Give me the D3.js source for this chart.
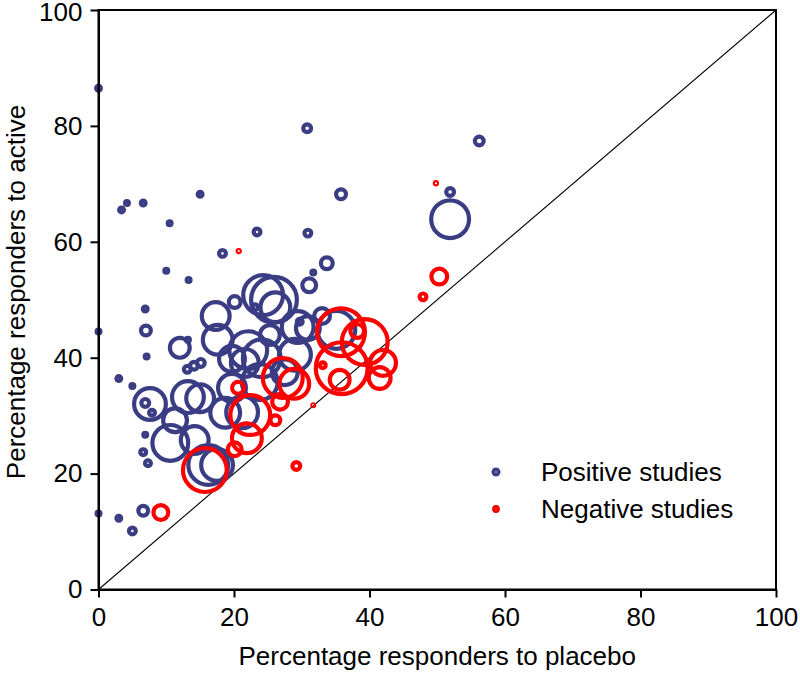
<!DOCTYPE html>
<html>
<head>
<meta charset="utf-8">
<script src="https://cdn.jsdelivr.net/npm/d3@7"></script>
<style>
html,body{margin:0;padding:0;background:#fff;}
svg text{font-family:"Liberation Sans",Arial,sans-serif;fill:#000;}
</style>
</head>
<body>
<svg id="chart" width="800" height="688"></svg>
<script>
// Positive studies: placebo %, active %, sample size
const posPlacebo = [0,30.8,56.2,3.4,4.2,6.6,15.0,35.8,51.9,51.9,10.5,23.4,30.9,18.3,10.0,13.3,33.7,31.1,31.7,6.9,0,7.0,7.1,3.0,5.0,0,3.0,5.0,6.6,24.3,25.9,26.1,20.1,23.1,17.3,17.6,12.0,13.2,13.1,14.1,15.1,19.7,21.6,22.1,24.1,29.4,30.9,29.0,35.1,29.7,7.6,6.9,7.9,13.2,15.0,10.6,14.2,16.2,17.5,6.6,7.3,6.9,21.2,18.7,23.8,27.5,25.3,33.0,19.7,11.3];
const posActive  = [86.5,79.6,77.4,65.5,66.7,66.7,68.2,68.2,68.6,63.9,63.2,61.7,61.5,58.0,55.0,53.4,56.3,52.5,54.7,48.4,44.5,44.7,40.2,36.4,35.1,13.1,12.3,10.1,13.6,50.8,50.0,48.7,49.6,48.7,47.2,43.1,41.7,43.1,38.0,38.6,39.1,39.8,39.1,41.3,39.9,45.3,45.1,40.5,44.8,46.2,32.0,32.2,30.5,33.2,33.0,25.3,25.8,21.5,21.5,23.7,21.8,26.7,30.6,30.5,35.8,37.5,43.9,47.2,34.8,29.2];
const posN       = [20,36,42,20,16,20,20,49,36,441,16,30,30,30,16,16,64,81,16,20,16,49,16,20,16,16,20,30,49,484,625,289,64,25,256,289,144,16,30,36,36,225,256,441,441,324,196,324,441,25,324,36,25,324,256,400,256,484,324,25,25,16,324,289,400,225,144,100,256,196];

// Negative studies
const negPlacebo = [49.8,20.7,50.3,47.9,9.2,29.2,31.7,35.8,39.3,35.9,42.0,41.5,35.6,38.2,27.2,28.9,26.8,26.1,22.4,21.9,20.1,20.6,15.7,33.1];
const negActive  = [70.1,58.4,54.0,50.5,13.3,21.3,31.8,44.4,42.7,38.2,39.1,36.5,36.2,44.6,36.5,35.5,32.4,29.2,30.1,26.1,24.2,34.8,20.6,38.7];
const negN       = [10,10,100,30,90,36,9,676,625,784,225,169,144,81,484,289,100,49,484,289,81,64,576,25];

const ticks = [0,20,40,60,80,100];
const xTitle = "Percentage responders to placebo";
const yTitle = "Percentage responders to active";
const legendLabels = ["Positive studies","Negative studies"];
const colors = ["#3b3d84","#ff0000"];

const svg = d3.select("#chart");
const L = 98.5, R = 776, T = 10, B = 589.5;
const x = d3.scaleLinear().domain([0,100]).range([L,R]);
const y = d3.scaleLinear().domain([0,100]).range([B,T]);
const r = d3.scaleSqrt().domain([0,900]).range([0,30]);
const SW = 4.2;

// diagonal
svg.append("line").attr("x1",x(0)).attr("y1",y(0)).attr("x2",x(100)).attr("y2",y(100))
  .attr("stroke","#000").attr("stroke-width",1.1);

function drawSet(px, py, n, color){
  const data = px.map((d,i)=>({x:d,y:py[i],n:n[i]}));
  svg.append("g").selectAll("circle").data(data).join("circle")
    .attr("cx",d=>x(d.x)).attr("cy",d=>y(d.y))
    .attr("r",d=>Math.max(r(d.n)-SW/2,0.6))
    .attr("fill","none").attr("stroke",color).attr("stroke-width",SW);
}
drawSet(posPlacebo,posActive,posN,colors[0]);
drawSet(negPlacebo,negActive,negN,colors[1]);

// frame
svg.append("rect").attr("x",L).attr("y",T).attr("width",R-L).attr("height",B-T)
  .attr("fill","none").attr("stroke","#000").attr("stroke-width",2);

const xa = svg.append("g").attr("transform",`translate(0,${B})`)
  .call(d3.axisBottom(x).tickValues(ticks).tickSize(8).tickPadding(10).tickSizeOuter(0));
const ya = svg.append("g").attr("transform",`translate(${L},0)`)
  .call(d3.axisLeft(y).tickValues(ticks).tickSize(8).tickPadding(8).tickSizeOuter(0));
[xa,ya].forEach(a=>{
  a.select(".domain").attr("stroke","#000").attr("stroke-width",2);
  a.selectAll(".tick line").attr("stroke","#000").attr("stroke-width",2);
  a.selectAll(".tick text").attr("font-size",26).attr("font-family","Liberation Sans, Arial, sans-serif").attr("fill","#000");
});
// keep the top "100" label inside the canvas
ya.selectAll(".tick text").filter(d=>d===100).attr("dy","0.36em").attr("y",1.5);

svg.append("text").attr("x",(L+R)/2).attr("y",665).attr("text-anchor","middle")
  .attr("font-size",26).text(xTitle);
svg.append("text").attr("transform",`translate(25,${292}) rotate(-90)`).attr("text-anchor","middle")
  .attr("font-size",26).text(yTitle);

// legend
const lg = svg.append("g");
[[472,481],[509,518]].forEach((p,i)=>{
  lg.append("circle").attr("cx",496).attr("cy",p[0]).attr("r", i===0?2.6:2.2)
    .attr("fill","none").attr("stroke",colors[i]).attr("stroke-width",i===0?3.8:3.4);
  lg.append("text").attr("x",541).attr("y",p[1]).attr("font-size",26).text(legendLabels[i]);
});
</script>
</body>
</html>
